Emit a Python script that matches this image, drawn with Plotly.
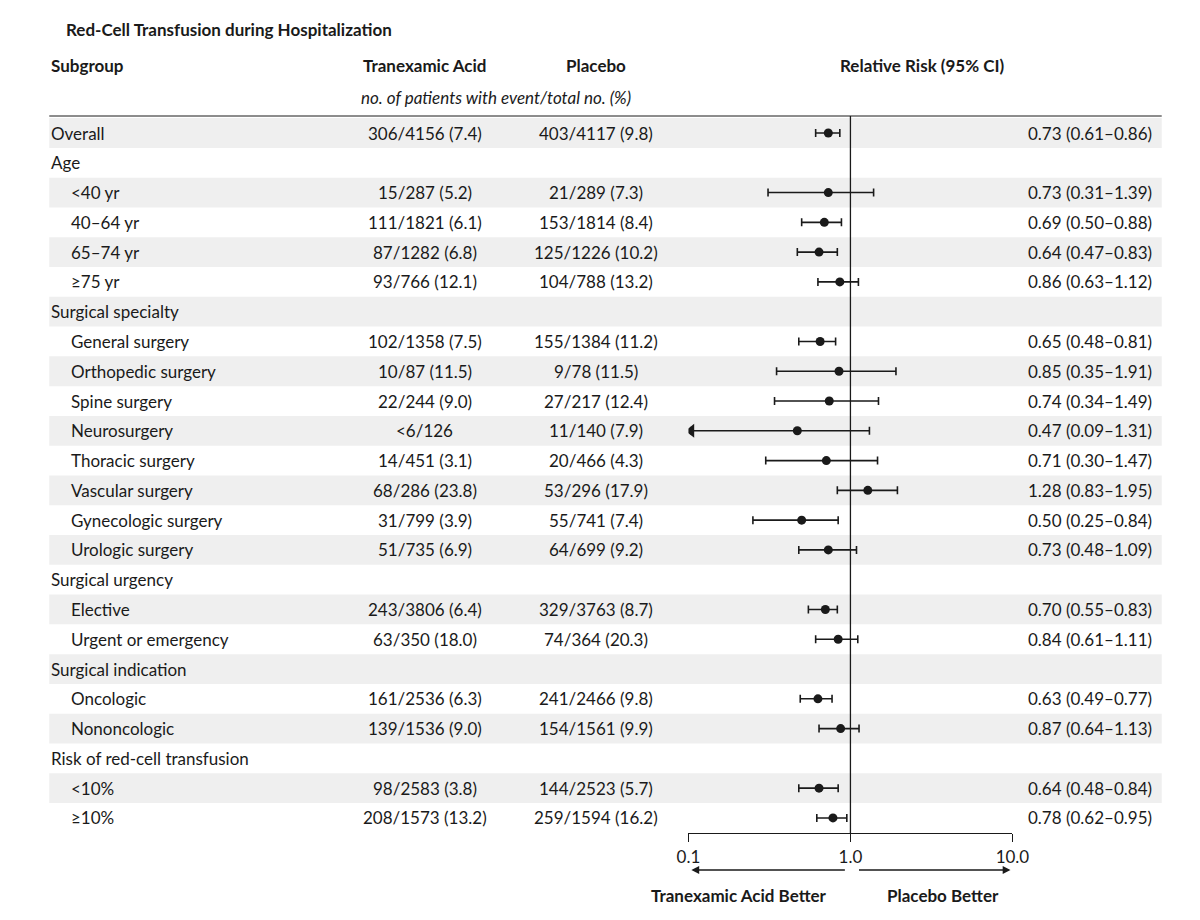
import plotly.graph_objects as go

subgroups = ["Overall","Age","<40 yr","40–64 yr","65–74 yr","≥75 yr","Surgical specialty",
 "General surgery","Orthopedic surgery","Spine surgery","Neurosurgery","Thoracic surgery",
 "Vascular surgery","Gynecologic surgery","Urologic surgery","Surgical urgency","Elective",
 "Urgent or emergency","Surgical indication","Oncologic","Nononcologic",
 "Risk of red-cell transfusion","<10%","≥10%"]
indent = [0,0,1,1,1,1,0,1,1,1,1,1,1,1,1,0,1,1,0,1,1,0,1,1]
txa = ["306/4156 (7.4)","","15/287 (5.2)","111/1821 (6.1)","87/1282 (6.8)","93/766 (12.1)","",
 "102/1358 (7.5)","10/87 (11.5)","22/244 (9.0)","<6/126","14/451 (3.1)","68/286 (23.8)",
 "31/799 (3.9)","51/735 (6.9)","","243/3806 (6.4)","63/350 (18.0)","","161/2536 (6.3)",
 "139/1536 (9.0)","","98/2583 (3.8)","208/1573 (13.2)"]
plac = ["403/4117 (9.8)","","21/289 (7.3)","153/1814 (8.4)","125/1226 (10.2)","104/788 (13.2)","",
 "155/1384 (11.2)","9/78 (11.5)","27/217 (12.4)","11/140 (7.9)","20/466 (4.3)","53/296 (17.9)",
 "55/741 (7.4)","64/699 (9.2)","","329/3763 (8.7)","74/364 (20.3)","","241/2466 (9.8)",
 "154/1561 (9.9)","","144/2523 (5.7)","259/1594 (16.2)"]
rr = [0.73,None,0.73,0.69,0.64,0.86,None,0.65,0.85,0.74,0.47,0.71,1.28,0.50,0.73,None,0.70,0.84,None,0.63,0.87,None,0.64,0.78]
lo = [0.61,None,0.31,0.50,0.47,0.63,None,0.48,0.35,0.34,0.09,0.30,0.83,0.25,0.48,None,0.55,0.61,None,0.49,0.64,None,0.48,0.62]
hi = [0.86,None,1.39,0.88,0.83,1.12,None,0.81,1.91,1.49,1.31,1.47,1.95,0.84,1.09,None,0.83,1.11,None,0.77,1.13,None,0.84,0.95]
tick_vals = [0.1,1,10]
tick_text = ["0.1","1.0","10.0"]

FONT = "Lato"
BLK = "#1a1a1a"
fig = go.Figure()
rows = list(range(len(subgroups)))
for i in rows:
    if i % 2 == 0:
        fig.add_shape(type="rect", xref="paper", yref="y", x0=30/1200, x1=1170/1200,
                      y0=i-0.5, y1=i+0.5, fillcolor="#efefef", line_width=0, layer="below")
xs, ys, ep, em = [], [], [], []
for i in rows:
    if rr[i] is None: continue
    xs.append(rr[i]); ys.append(i)
    l = max(lo[i], 0.104)
    ep.append(hi[i]-rr[i]); em.append(rr[i]-l)
fig.add_trace(go.Scatter(x=xs, y=ys, mode="markers", marker=dict(color=BLK, size=9),
    error_x=dict(type="data", array=ep, arrayminus=em, color=BLK, thickness=1.6, width=4),
    showlegend=False, hoverinfo="skip"))
ax_, ay_ = [], []
for i in rows:
    if lo[i] is not None and lo[i] < 0.1:
        ax_.append(0.104); ay_.append(i)
fig.add_trace(go.Scatter(x=ax_, y=ay_, mode="markers",
    marker=dict(symbol="triangle-left", color=BLK, size=12), showlegend=False, hoverinfo="skip"))

ann = []
def T(x, y, t, anchor="left", bold=False, italic=False, size=17, yref="y"):
    if bold: t = "<b>"+t+"</b>"
    if italic: t = "<i>"+t+"</i>"
    ann.append(dict(x=x, y=y, xref="paper", yref=yref, text=t, showarrow=False,
                    xanchor=anchor, yanchor="middle", font=dict(family=FONT, size=size, color=BLK)))
for i in rows:
    T((30+20*indent[i])/1200, i, subgroups[i])
    if txa[i]: T(415/1200, i, txa[i], "center")
    if plac[i]: T(590/1200, i, plac[i], "center")
    if rr[i] is not None:
        T(1162/1200, i, f"{rr[i]:.2f} ({lo[i]:.2f}–{hi[i]:.2f})", "right")
def py(p): return 1 - p/920
T(45/1200, py(22), "Red-Cell Transfusion during Hospitalization", bold=True, yref="paper")
T(30/1200, py(58), "Subgroup", bold=True, yref="paper")
T(415/1200, py(58), "Tranexamic Acid", "center", bold=True, yref="paper")
T(590/1200, py(58), "Placebo", "center", bold=True, yref="paper")
T(925/1200, py(58), "Relative Risk (95% CI)", "center", bold=True, yref="paper")
T(488/1200, py(90), "no. of patients with event/total no. (%)", "center", italic=True, yref="paper")
T(737/1200, py(887), "Tranexamic Acid Better", "center", bold=True, yref="paper")
T(946/1200, py(887), "Placebo Better", "center", bold=True, yref="paper")
for x0, x1 in [(843, 688), (862, 1015)]:
    ann.append(dict(x=x1/1200, y=py(862), ax=x0-x1, ay=0, xref="paper", yref="paper",
                    axref="pixel", ayref="pixel", text="", showarrow=True, arrowhead=2,
                    arrowsize=1.2, arrowwidth=1.3, arrowcolor=BLK))
fig.update_layout(annotations=ann)
fig.add_shape(type="line", xref="paper", yref="paper", x0=30/1200, x1=1170/1200,
              y0=py(108), y1=py(108), line=dict(color=BLK, width=1))
fig.add_shape(type="line", xref="x", yref="paper", x0=1, x1=1, y0=py(108), y1=py(825),
              line=dict(color=BLK, width=1.3))

ybot = (825-125)/29.78
fig.update_layout(
    width=1200, height=920, margin=dict(l=0, r=0, t=0, b=0),
    paper_bgcolor="white", plot_bgcolor="rgba(0,0,0,0)",
    xaxis=dict(type="log", range=[-1, 1], domain=[685/1200, 1017/1200],
               tickvals=tick_vals, ticktext=tick_text, ticks="outside", ticklen=8,
               tickcolor=BLK, showline=True, linecolor=BLK, linewidth=1.3, showgrid=False,
               zeroline=False, tickfont=dict(family=FONT, size=17, color=BLK)),
    yaxis=dict(range=[ybot, -125/29.78], domain=[95/920, 1], visible=False, showgrid=False),
)
fig.write_html("out.html")
